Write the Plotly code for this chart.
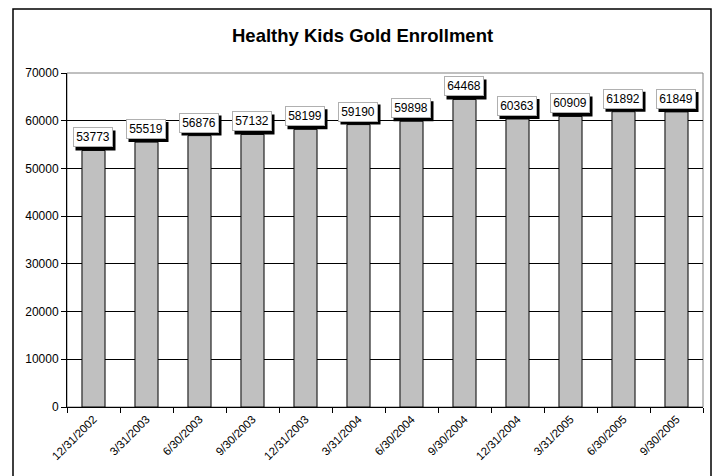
import plotly.graph_objects as go

categories = ["12/31/2002", "3/31/2003", "6/30/2003", "9/30/2003", "12/31/2003", "3/31/2004",
              "6/30/2004", "9/30/2004", "12/31/2004", "3/31/2005", "6/30/2005", "9/30/2005"]
enrollment = [53773, 55519, 56876, 57132, 58199, 59190, 59898, 64468, 60363, 60909, 61892, 61849]
y_ticks = [0, 10000, 20000, 30000, 40000, 50000, 60000, 70000]

FONT = "Liberation Sans, Arial, sans-serif"
W, H = 716, 476
L, R, T, B = 67, 13, 73, 69
pw, ph = W - L - R, H - T - B

def px_x(p):
    return (p - L) / pw

def px_y(p):
    return (H - B - p) / ph

fig = go.Figure()
fig.add_trace(go.Bar(
    x=categories, y=enrollment,
    marker=dict(color="#c0c0c0", line=dict(color="black", width=1)),
    showlegend=False,
))

BOX_W, BOX_H, GAP, SH = 40, 20, 3, 3
annotations = []
shapes = []
for c, v in zip(categories, enrollment):
    # shadow of the label box
    shapes.append(dict(type="rect", xref="x", yref="y", layer="above",
                       xsizemode="pixel", ysizemode="pixel", xanchor=c, yanchor=v,
                       x0=-BOX_W / 2 - 1 + SH, x1=BOX_W / 2 - 1 + SH,
                       y0=GAP - SH, y1=GAP + BOX_H - SH,
                       fillcolor="black", line=dict(width=0)))
    annotations.append(dict(x=c, y=v, text=str(v), showarrow=False, yanchor="bottom",
                            xshift=-1, yshift=GAP, bgcolor="white", bordercolor="#b0b0b0",
                            borderwidth=1, borderpad=1, width=BOX_W - 4, height=BOX_H - 4,
                            font=dict(family=FONT, size=12, color="black")))

annotations.append(dict(text="<b>Healthy Kids Gold Enrollment</b>", xref="paper", yref="paper",
                        x=px_x(362), y=px_y(35), showarrow=False, xanchor="center", yanchor="middle",
                        font=dict(family=FONT, size=18.5, color="black")))

shapes += [
    # outer chart border
    dict(type="rect", xref="paper", yref="paper", x0=px_x(13), x1=px_x(711), y0=px_y(485), y1=px_y(9),
         line=dict(color="black", width=1.5), fillcolor="rgba(0,0,0,0)", layer="below"),
    # plot area border (top/right gray)
    dict(type="rect", xref="paper", yref="paper", x0=0, x1=1, y0=0, y1=1,
         line=dict(color="#808080", width=1), fillcolor="rgba(0,0,0,0)", layer="below"),
]

fig.update_layout(
    width=W, height=H,
    margin=dict(l=L, r=R, t=T, b=B, pad=0),
    paper_bgcolor="white", plot_bgcolor="white",
    bargap=0.565,
    annotations=annotations,
    shapes=shapes,
    font=dict(family=FONT, size=12, color="black"),
    xaxis=dict(
        type="category", tickangle=-45, tickson="boundaries", ticks="outside", ticklen=5,
        tickcolor="black", showline=True, linecolor="black", linewidth=1,
        showgrid=False, tickfont=dict(family=FONT, size=11.5), mirror=False,
    ),
    yaxis=dict(
        range=[0, 70000], tickvals=y_ticks, ticktext=[str(t) for t in y_ticks],
        ticks="outside", ticklen=5, tickcolor="black",
        showline=True, linecolor="black", linewidth=1,
        showgrid=True, gridcolor="black", gridwidth=1, zeroline=False,
        tickfont=dict(family=FONT, size=12),
    ),
)

fig.write_html("out.html")
